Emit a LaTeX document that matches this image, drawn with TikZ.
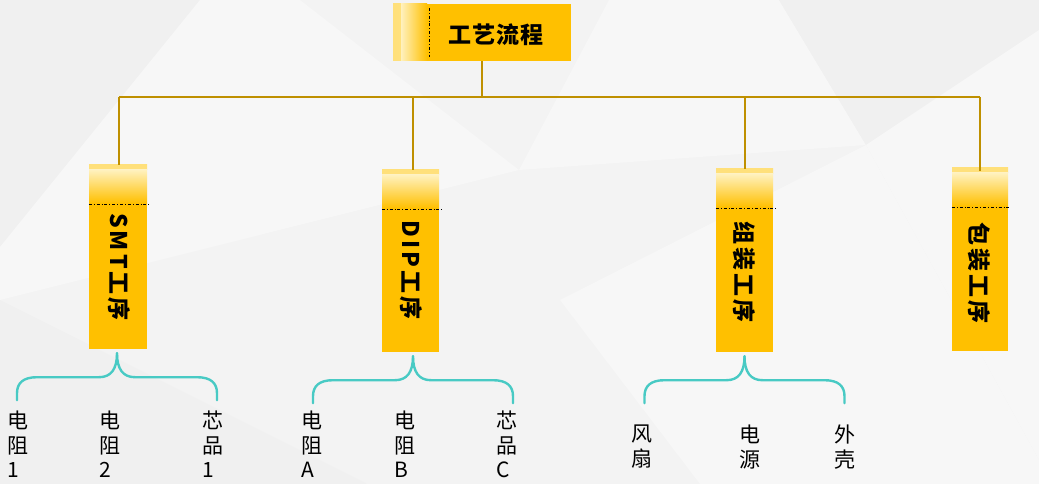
\documentclass[tikz,border=0pt]{standalone}
\usepackage{fontspec}
\newfontfamily\cjk{Noto Sans CJK SC}
\usetikzlibrary{calc}
\definecolor{bgbase}{HTML}{F3F3F3}
\definecolor{bglight}{HTML}{F7F7F7}
\definecolor{bgdark}{HTML}{F0F0F0}
\definecolor{gold}{HTML}{FFC000}
\definecolor{goldedge}{HTML}{FFE07A}
\definecolor{goldhi}{HTML}{FFF1BE}
\definecolor{linegold}{HTML}{BF9000}
\definecolor{teal}{HTML}{48CAC4}
\newcommand\vsp{\hspace{3pt}}
\newcommand\bracedown[3]{%
  \coordinate (#2) at ([xshift=#3,yshift=-4pt]#1.south);
  \draw[bracelink] (#2) .. controls ($(#2)+(0,16)$) and ($(#2)+(-6,24)$) .. ($(#2)+(-18,24)$)
     -- ($(#2)+(-80,24)$) .. controls ($(#2)+(-94,24)$) and ($(#2)+(-100,30)$) .. ($(#2)+(-100,40)$)
     -- ($(#2)+(-100,47)$);
  \draw[bracelink] (#2) .. controls ($(#2)+(0,16)$) and ($(#2)+(6,24)$) .. ($(#2)+(18,24)$)
     -- ($(#2)+(80,24)$) .. controls ($(#2)+(94,24)$) and ($(#2)+(100,30)$) .. ($(#2)+(100,40)$)
     -- ($(#2)+(100,47)$);
}
\tikzset{
  conn/.style={draw=linegold, line width=2pt},
  bracelink/.style={draw=teal, line width=2.4pt, line cap=round},
  vbox/.style={rectangle, fill=gold, inner sep=0pt, minimum width=57pt, minimum height=183pt,
    path picture={
      \shade[top color=goldedge, bottom color=goldhi]
        (path picture bounding box.north west) rectangle ([yshift=-5pt]path picture bounding box.north east);
      \shade[top color=goldhi, bottom color=gold]
        ([yshift=-5pt]path picture bounding box.north west) rectangle ([yshift=-38pt]path picture bounding box.north east);
    }},
  vtext/.style={rotate=-90, inner sep=0pt, font=\cjk\bfseries\fontsize{23}{23}\selectfont},
  leaf/.style={anchor=north west, inner sep=0pt, align=left, font=\cjk\fontsize{21}{24.5}\selectfont},
  dd/.style={draw=black, line width=0.7pt, dash pattern=on 3pt off 2pt on 0.8pt off 2pt},
}
\begin{document}
\begin{tikzpicture}[x=1pt,y=-1pt]
\useasboundingbox (0,0) rectangle (1039,484);
% background
\fill[bgbase] (0,0) rectangle (1039,484);
\fill[bgdark] (0,0) -- (200,0) -- (0,247) -- cycle;
\fill[bglight] (0,247) -- (200,0) -- (300,0) -- (519,170) -- (0,300) -- cycle;
\fill[bgdark] (0,300) -- (367,484) -- (0,484) -- cycle;
\fill[bglight] (609,0) -- (779,0) -- (866,145) -- (519,170) -- cycle;
\fill[bgdark] (779,0) -- (1039,0) -- (1039,30) -- (866,145) -- cycle;
\fill[bglight] (866,145) -- (1039,30) -- (1039,460) -- cycle;
\fill[bglight] (866,145) -- (1039,460) -- (1039,484) -- (700,484) -- (560,300) -- cycle;

% title
\node[rectangle, fill=gold, inner sep=0pt, minimum width=178pt, minimum height=57pt,
  path picture={
    \shade[left color=goldedge, right color=goldhi]
      (path picture bounding box.north west) rectangle ([xshift=8pt]path picture bounding box.south west);
    \shade[left color=goldhi, right color=gold]
      ([xshift=8pt]path picture bounding box.north west) rectangle ([xshift=34pt]path picture bounding box.south west);
  }] (title) at (482,32.5) {};
\draw[dd] ([xshift=37pt,yshift=-4pt]title.north west) -- ([xshift=37pt,yshift=4pt]title.south west);
\node[inner sep=0pt, font=\cjk\bfseries\fontsize{23}{23}\selectfont] (titleL) at (496,35) {工\hspace{1pt}艺\hspace{1pt}流\hspace{1pt}程};

% process boxes
\node[vbox, minimum width=58pt, minimum height=184pt] (smt) at (118,257) {};
\node[vbox, minimum height=182pt] (dip) at (410.5,261) {};
\node[vbox] (zz) at (744.5,260.5) {};
\node[vbox, minimum width=56pt] (bz) at (980,259.5) {};
\foreach \b in {smt,dip,zz,bz}{
  \draw[dd] ([yshift=-40pt]\b.north west) -- ([xshift=3pt,yshift=-40pt]\b.north east);
}
\node[vtext] (smtL) at (119,267) {S\vsp M\vsp T\vsp 工\vsp 序};
\node[vtext] (dipL) at (411,270) {D\vsp I\vsp P\vsp 工\vsp 序};
\node[vtext] (zzL) at (744,272) {组\vsp 装\vsp 工\vsp 序};
\node[vtext] (bzL) at (979,273) {包\vsp 装\vsp 工\vsp 序};

% tree connectors
\coordinate (bus) at (482,97);
\draw[conn] (title.south) -- (title.south |- bus);
\draw[conn] ([xshift=1pt]smt.north |- bus) -- (bz.north |- bus);
\draw[conn] ([xshift=1pt]smt.north |- bus) -- ([xshift=1pt]smt.north);
\draw[conn] ([xshift=2.5pt]dip.north |- bus) -- ([xshift=2.5pt]dip.north);
\draw[conn] (zz.north |- bus) -- (zz.north);
\draw[conn] (bz.north |- bus) -- ([yshift=-3pt]bz.north);

% braces
\bracedown{smt}{tsmt}{-1pt}
\bracedown{dip}{tdip}{2.5pt}
\bracedown{zz}{tzz}{0pt}

% leaves
\node[leaf] (l1) at (7,411) {电\\阻\\1};
\node[leaf] (l2) at (99,411) {电\\阻\\2};
\node[leaf] (l3) at (202,411) {芯\\品\\1};
\node[leaf] (l4) at (301,411) {电\\阻\\A};
\node[leaf] (l5) at (394,411) {电\\阻\\B};
\node[leaf] (l6) at (496,411) {芯\\品\\C};
\node[leaf] (l7) at (631,425) {风\\扇};
\node[leaf] (l8) at (739,425) {电\\源};
\node[leaf] (l9) at (834,425) {外\\壳};
\end{tikzpicture}
\end{document}
